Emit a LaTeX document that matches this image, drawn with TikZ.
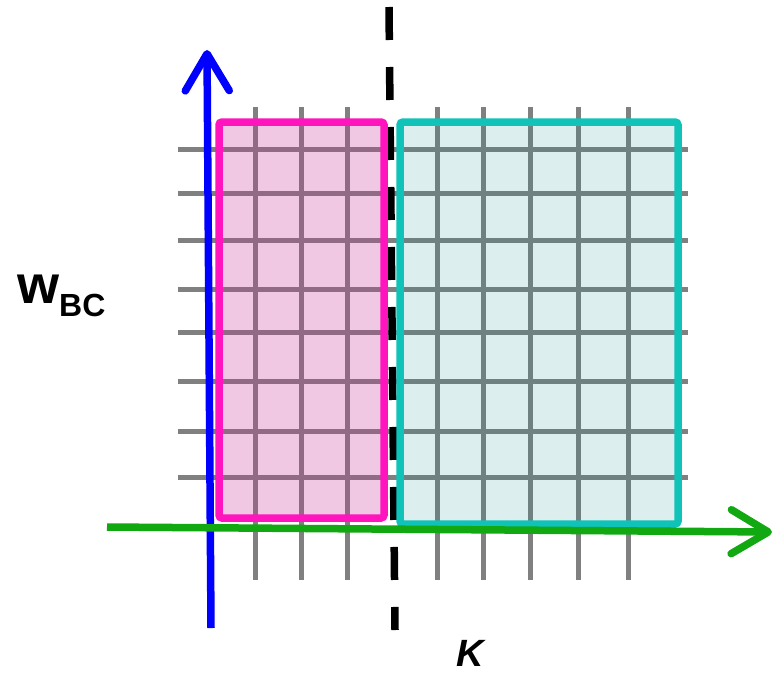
\documentclass[tikz,border=0pt]{standalone}
\usepackage{fontspec}
\setmainfont{Liberation Sans}
\usetikzlibrary{arrows.meta}
\definecolor{gridGray}{RGB}{128,128,128}
\definecolor{hotPink}{RGB}{255,20,190}
\definecolor{pinkFill}{RGB}{197,43,151}
\definecolor{tealLine}{RGB}{15,195,185}
\definecolor{tealFill}{RGB}{20,140,140}
\definecolor{axisBlue}{RGB}{0,0,255}
\definecolor{axisGreen}{RGB}{17,168,17}

\begin{document}
\begin{tikzpicture}[x=1pt,y=-1pt,
  gridline/.style={gridGray,line width=5pt},
  pinkbox/.style={draw=hotPink,fill=pinkFill,fill opacity=0.26,line width=7.5pt,rounded corners=3pt},
  tealbox/.style={draw=tealLine,fill=tealFill,fill opacity=0.15,line width=7.5pt,rounded corners=3pt},
  axis/.style={line width=7.5pt,-{Straight Barb[length=37pt,width=44pt,round]}},
  divider/.style={line width=7.5pt,dash pattern=on 33pt off 27pt},
  lbl/.style={inner sep=0pt,anchor=base west,font=\bfseries}]
\useasboundingbox (0,0) rectangle (773,675);
% grid
\foreach \y in {149,193,240,289,332,381,431,477}
  \draw[gridline] (178,\y) -- (688,\y);
\foreach \x in {255,301,347,437,483,530,578,628}
  \draw[gridline] (\x,107) -- (\x,580);
% cut between the two regions
\coordinate (cutTop) at (389,7);
\coordinate (cutBot) at (395,630);
\draw[divider] (cutTop) -- (cutBot);
% regions
\draw[pinkbox] (219,122) rectangle (384,518);
\draw[tealbox] (400,122) rectangle (678,524);
% axes
\coordinate (yFoot) at (211,628);
\coordinate (yTip) at (207,50);
\coordinate (xFoot) at (107,527);
\coordinate (xTip) at (772,532);
\draw[axis,axisBlue] (yFoot) -- (yTip);
\draw[axis,axisGreen] (xFoot) -- (xTip);
% labels
\node[lbl] (wbc) at (17,303) {\fontsize{54pt}{54pt}\selectfont w\raisebox{-13pt}{\fontsize{32pt}{32pt}\selectfont BC}};
\node[lbl] (kap) at (456,666) {\fontsize{38pt}{38pt}\selectfont\itshape K};
\end{tikzpicture}
\end{document}
